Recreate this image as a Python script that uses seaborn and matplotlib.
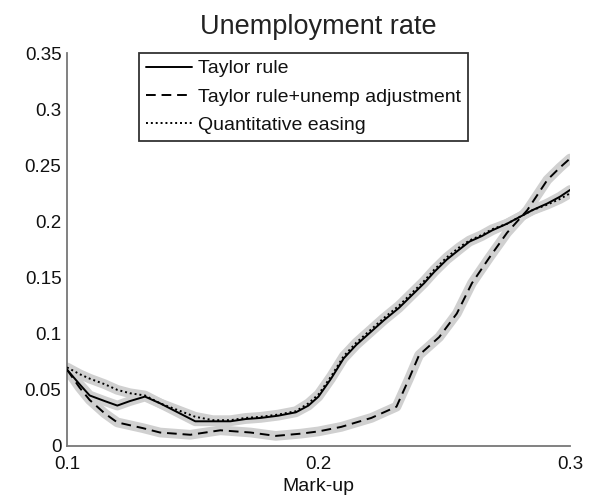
import matplotlib
matplotlib.use("Agg")
import matplotlib.pyplot as plt
import seaborn as sns
import pandas as pd

# Mark-up grid and unemployment rate under each policy
taylor_x = [0.100, 0.105, 0.109, 0.115, 0.120, 0.125, 0.131, 0.137, 0.144, 0.151, 0.158,
            0.165, 0.171, 0.177, 0.184, 0.191, 0.196, 0.200, 0.205, 0.210, 0.215, 0.221,
            0.226, 0.232, 0.237, 0.242, 0.246, 0.251, 0.256, 0.260, 0.265, 0.269, 0.275,
            0.280, 0.285, 0.291, 0.296, 0.300]
taylor_y = [0.068, 0.055, 0.045, 0.040, 0.036, 0.040, 0.044, 0.038, 0.030, 0.022, 0.022,
            0.022, 0.024, 0.025, 0.027, 0.030, 0.036, 0.044, 0.060, 0.078, 0.090, 0.102,
            0.112, 0.123, 0.134, 0.145, 0.155, 0.166, 0.175, 0.182, 0.187, 0.192, 0.198,
            0.204, 0.210, 0.216, 0.222, 0.228]

unemp_x = [0.100, 0.105, 0.109, 0.115, 0.120, 0.130, 0.137, 0.149, 0.161, 0.173, 0.183,
           0.193, 0.200, 0.209, 0.221, 0.231, 0.236, 0.240, 0.248, 0.255, 0.261, 0.268,
           0.275, 0.283, 0.291, 0.296, 0.300]
unemp_y = [0.068, 0.052, 0.041, 0.029, 0.021, 0.016, 0.012, 0.010, 0.014, 0.012, 0.009,
           0.011, 0.013, 0.017, 0.025, 0.035, 0.060, 0.081, 0.097, 0.118, 0.145, 0.168,
           0.190, 0.210, 0.237, 0.248, 0.256]

qe_x = [0.100, 0.105, 0.109, 0.115, 0.120, 0.125, 0.131, 0.137, 0.144, 0.151, 0.158,
        0.165, 0.171, 0.177, 0.184, 0.191, 0.196, 0.200, 0.205, 0.210, 0.215, 0.221,
        0.226, 0.232, 0.237, 0.242, 0.246, 0.251, 0.256, 0.260, 0.265, 0.269, 0.275,
        0.280, 0.285, 0.291, 0.296, 0.300]
qe_y = [0.070, 0.064, 0.060, 0.055, 0.050, 0.047, 0.045, 0.038, 0.032, 0.026, 0.023,
        0.023, 0.025, 0.026, 0.028, 0.031, 0.038, 0.046, 0.062, 0.080, 0.092, 0.104,
        0.114, 0.125, 0.136, 0.147, 0.157, 0.168, 0.177, 0.183, 0.188, 0.193, 0.198,
        0.204, 0.210, 0.215, 0.220, 0.225]

series_names = ["Taylor rule", "Taylor rule+unemp adjustment", "Quantitative easing"]
y_ticks = [0, 0.05, 0.1, 0.15, 0.2, 0.25, 0.3, 0.35]
y_tick_labels = ["0", "0.05", "0.1", "0.15", "0.2", "0.25", "0.3", "0.35"]
x_ticks = [0.1, 0.2, 0.3]
x_tick_labels = ["0.1", "0.2", "0.3"]

frames = []
for name, xs, ys in zip(series_names, [taylor_x, unemp_x, qe_x], [taylor_y, unemp_y, qe_y]):
    frames.append(pd.DataFrame({"markup": xs, "rate": ys, "policy": name}))
data = pd.concat(frames, ignore_index=True)

sns.set_style("white")
plt.rcParams["font.family"] = ["Liberation Sans", "DejaVu Sans"]

fig = plt.figure(figsize=(5.9, 5.0), dpi=100)
ax = fig.add_axes([0.1136, 0.108, 0.8525, 0.786])

styles = {
    "Taylor rule": dict(linestyle="-"),
    "Taylor rule+unemp adjustment": dict(linestyle=(0, (5, 3))),
    "Quantitative easing": dict(linestyle=(0, (1, 1.5))),
}

# grey simulation bands behind each line
for name in series_names:
    sub = data[data["policy"] == name]
    sns.lineplot(data=sub, x="markup", y="rate", ax=ax, color="#d0d0d0",
                 linewidth=7, solid_capstyle="round", legend=False, zorder=1)

for name in series_names:
    sub = data[data["policy"] == name]
    sns.lineplot(data=sub, x="markup", y="rate", ax=ax, color="black",
                 linewidth=1.4, label=name, zorder=3, **styles[name])

ax.set_xlim(0.1, 0.3)
ax.set_ylim(0, 0.35)
ax.set_xticks(x_ticks)
ax.set_xticklabels(x_tick_labels)
ax.set_yticks(y_ticks)
ax.set_yticklabels(y_tick_labels)
ax.tick_params(direction="in", length=5, width=1, colors="#666666",
               labelcolor="#111111", labelsize=13.5)
ax.tick_params(axis="y", pad=4)
ax.tick_params(axis="x", pad=7)

for side in ["top", "right"]:
    ax.spines[side].set_visible(False)
for side in ["left", "bottom"]:
    ax.spines[side].set_color("#777777")
    ax.spines[side].set_linewidth(1.3)

ax.set_title("Unemployment rate", fontsize=19.5, pad=14, color="#222222")
ax.set_xlabel("Mark-up", fontsize=14, labelpad=4, color="#111111")
ax.set_ylabel("")

leg = ax.legend(loc="upper left", bbox_to_anchor=(0.143, 1.0), frameon=True,
                fancybox=False, fontsize=14, handlelength=2.4, handletextpad=0.3,
                borderpad=0.35, labelspacing=0.55, borderaxespad=0.0)
leg.get_frame().set_edgecolor("black")
leg.get_frame().set_linewidth(1.3)
for text in leg.get_texts():
    text.set_color("#111111")

fig.savefig("out.png", dpi=100)
